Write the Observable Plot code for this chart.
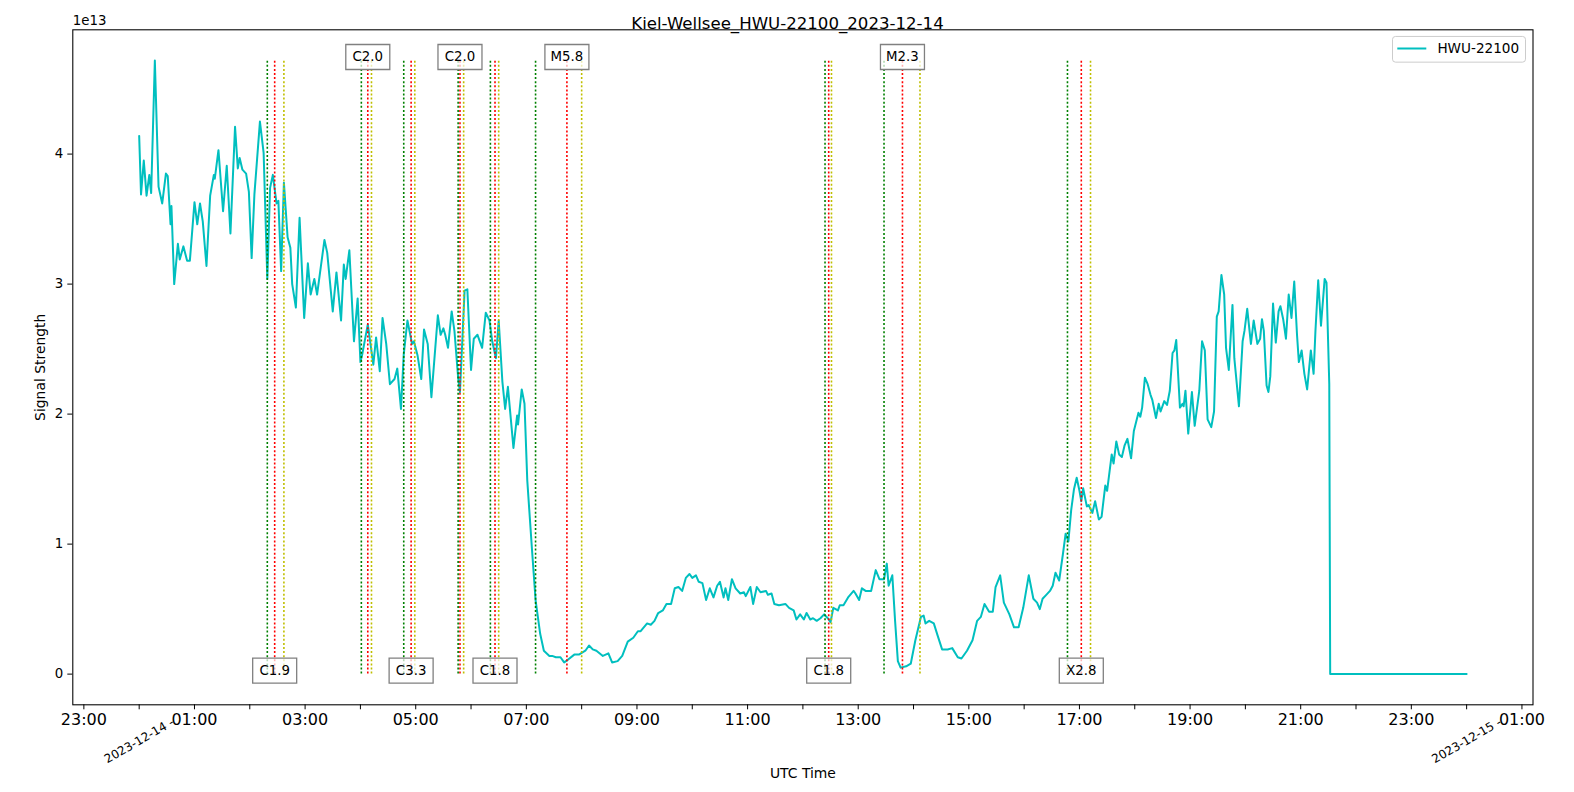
<!DOCTYPE html>
<html>
<head>
<meta charset="utf-8">
<script src="https://cdn.jsdelivr.net/npm/d3@7"></script>
<script src="https://cdn.jsdelivr.net/npm/@observablehq/plot@0.6"></script>
<style>
  html, body { margin: 0; padding: 0; background: #ffffff; overflow: hidden; }
</style>
</head>
<body>
<div id="chart"></div>
<script>
// ---------- texts ----------
const chartTitle = "Kiel-Wellsee_HWU-22100_2023-12-14";
const seriesName = "HWU-22100";
const xLabel = "UTC Time";
const yLabel = "Signal Strength";
const yExponentLabel = "1e13";
const dayStart = "2023-12-14";

// ---------- signal series (minutes after 00:00 UTC, value in units of 1e13) ----------
const minutes = [
  0,2,5,8,11,13,17,21,25,29,
  31,34,35,38,42,44,48,52,55,60,
  63,66,69,73,77,81,82,86,91,95,
  99,104,107,109,112,116,119,122,125,131,
  135,139,142,145,149,151,154,157,161,164,
  166,170,174,179,183,186,190,193,197,201,
  204,210,214,219,222,224,228,233,237,240,
  242,248,254,257,261,264,268,272,277,280,
  284,287,291,296,298,302,306,309,313,317,
  321,324,327,330,332,335,339,342,346,348,
  353,356,360,363,367,372,376,380,383,387,
  390,394,397,400,406,410,411,415,418,421,
  426,430,435,439,445,448,452,457,461,465,
  472,477,484,488,492,496,503,509,513,519,
  524,530,536,541,544,551,555,559,563,568,
  572,577,581,585,589,593,597,600,604,607,
  611,615,619,623,627,630,634,636,639,643,
  647,652,656,658,663,666,670,674,680,682,
  686,689,694,701,705,710,713,717,721,724,
  728,731,735,739,743,747,750,753,758,760,
  764,769,775,777,781,784,788,794,799,803,
  808,811,813,817,820,823,826,832,837,842,
  848,851,853,857,862,866,871,877,882,888,
  892,898,904,909,913,917,922,926,929,934,
  938,944,949,954,959,965,970,974,977,980,
  984,988,991,994,998,1002,1005,1008,1011,1014,
  1017,1020,1022,1024,1028,1030,1034,1037,1041,1044,
  1048,1050,1055,1057,1060,1063,1066,1069,1072,1076,
  1079,1084,1086,1088,1091,1094,1097,1099,1103,1106,
  1108,1112,1115,1118,1121,1123,1125,1129,1132,1133,
  1135,1138,1142,1145,1150,1153,1156,1159,1163,1166,
  1169,1171,1174,1177,1179,1182,1186,1188,1193,1197,
  1199,1202,1206,1209,1213,1216,1218,1220,1223,1225,
  1227,1230,1233,1236,1238,1241,1244,1247,1250,1253,
  1256,1258,1261,1264,1267,1271,1274,1276,1279,1282,
  1286,1288,1291,1292,1440
];
const signal = [
  4.14,3.69,3.95,3.68,3.84,3.70,4.72,3.75,3.62,3.85,
  3.83,3.46,3.60,3.00,3.31,3.19,3.29,3.18,3.18,3.63,
  3.46,3.62,3.48,3.14,3.68,3.84,3.81,4.03,3.56,3.91,
  3.39,4.21,3.89,3.97,3.88,3.85,3.71,3.20,3.69,4.25,
  4.01,3.04,3.74,3.84,3.62,3.64,3.10,3.78,3.36,3.28,
  3.00,2.82,3.51,2.74,3.16,2.92,3.04,2.92,3.13,3.34,
  3.24,2.79,3.09,2.72,3.15,3.04,3.26,2.56,2.89,2.40,
  2.46,2.69,2.38,2.59,2.33,2.74,2.54,2.23,2.27,2.35,
  2.04,2.46,2.72,2.54,2.56,2.45,2.27,2.65,2.54,2.13,
  2.49,2.76,2.61,2.66,2.61,2.51,2.79,2.64,2.28,2.17,
  2.95,2.96,2.34,2.58,2.61,2.51,2.78,2.72,2.56,2.43,
  2.72,2.25,2.04,2.21,1.74,1.99,1.92,2.19,2.08,1.49,
  0.97,0.57,0.31,0.18,0.14,0.14,0.13,0.13,0.09,0.11,
  0.15,0.15,0.18,0.22,0.19,0.18,0.14,0.16,0.09,0.10,
  0.14,0.25,0.28,0.33,0.33,0.39,0.38,0.41,0.47,0.49,
  0.54,0.54,0.66,0.67,0.64,0.74,0.77,0.74,0.76,0.71,
  0.70,0.57,0.66,0.59,0.68,0.71,0.59,0.66,0.57,0.73,
  0.66,0.62,0.63,0.60,0.67,0.54,0.67,0.63,0.64,0.61,
  0.62,0.54,0.53,0.54,0.51,0.49,0.42,0.46,0.42,0.47,
  0.42,0.43,0.41,0.43,0.46,0.43,0.40,0.51,0.49,0.53,
  0.53,0.59,0.64,0.62,0.57,0.66,0.64,0.64,0.80,0.73,
  0.73,0.85,0.68,0.76,0.41,0.10,0.05,0.06,0.08,0.26,
  0.44,0.45,0.39,0.41,0.39,0.30,0.19,0.19,0.20,0.13,
  0.12,0.18,0.26,0.41,0.44,0.54,0.48,0.48,0.67,0.76,
  0.55,0.46,0.36,0.36,0.51,0.76,0.58,0.55,0.50,0.58,
  0.61,0.64,0.68,0.78,0.72,0.92,1.08,1.02,1.26,1.42,
  1.51,1.41,1.33,1.43,1.29,1.30,1.24,1.33,1.19,1.21,
  1.45,1.41,1.69,1.62,1.79,1.69,1.67,1.76,1.81,1.66,
  1.87,2.01,1.98,2.05,2.28,2.23,2.15,2.11,1.97,2.08,
  2.02,2.10,2.07,2.18,2.47,2.49,2.57,2.05,2.08,2.06,
  2.18,1.85,2.17,1.91,2.18,2.56,2.49,1.96,1.90,2.02,
  2.75,2.79,3.07,2.92,2.51,2.34,2.84,2.43,2.06,2.56,
  2.64,2.81,2.54,2.72,2.54,2.58,2.73,2.64,2.22,2.17,
  2.29,2.85,2.55,2.79,2.83,2.73,2.58,2.92,2.74,3.02,
  2.61,2.40,2.49,2.31,2.19,2.49,2.31,2.64,3.03,2.68,
  3.04,3.01,2.23,0,0
];
const yUnit = 1e13;

// ---------- flares (UTC) ----------
const flareClass = ["C1.9", "C2.0", "C3.3", "C2.0", "C1.8", "M5.8", "C1.8", "M2.3", "X2.8"];
const flareStart = ["02:19", "04:01", "04:47", "05:46", "06:21", "07:10", "12:24", "13:28", "16:47"];
const flarePeak  = ["02:27", "04:08", "04:55", "05:48", "06:26", "07:44", "12:28", "13:48", "17:02"];
const flareEnd   = ["02:37", "04:12", "04:59", "05:52", "06:30", "08:00", "12:31", "14:07", "17:12"];

// ---------- ticks ----------
const xMajorTicks = [
  "2023-12-13T23:00:00Z", "2023-12-14T01:00:00Z", "2023-12-14T03:00:00Z", "2023-12-14T05:00:00Z",
  "2023-12-14T07:00:00Z", "2023-12-14T09:00:00Z", "2023-12-14T11:00:00Z", "2023-12-14T13:00:00Z",
  "2023-12-14T15:00:00Z", "2023-12-14T17:00:00Z", "2023-12-14T19:00:00Z", "2023-12-14T21:00:00Z",
  "2023-12-14T23:00:00Z", "2023-12-15T01:00:00Z"
];
const xMinorTicks = [
  "2023-12-14T00:00:00Z", "2023-12-14T02:00:00Z", "2023-12-14T04:00:00Z", "2023-12-14T06:00:00Z",
  "2023-12-14T08:00:00Z", "2023-12-14T10:00:00Z", "2023-12-14T12:00:00Z", "2023-12-14T14:00:00Z",
  "2023-12-14T16:00:00Z", "2023-12-14T18:00:00Z", "2023-12-14T20:00:00Z", "2023-12-14T22:00:00Z",
  "2023-12-15T00:00:00Z"
];
const dateTickTimes = ["2023-12-14T00:00:00Z", "2023-12-15T00:00:00Z"];
const dateTickLabels = ["2023-12-14 -", "2023-12-15 -"];
const yTicks = [0, 1, 2, 3, 4];

// ---------- build tables ----------
const t0 = new Date(dayStart + "T00:00:00Z").getTime();
const series = minutes.map((m, i) => ({time: new Date(t0 + m * 60000), value: signal[i] * yUnit}));
const hm = (s) => new Date(`${dayStart}T${s}:00Z`);
const flares = flareClass.map((c, i) => ({
  cls: c, start: hm(flareStart[i]), peak: hm(flarePeak[i]), end: hm(flareEnd[i]), top: i % 2 === 1
}));
const dateTicks = dateTickTimes.map((t, i) => ({time: new Date(t), label: dateTickLabels[i]}));

const yMax = d3.max(series, d => d.value);
const [tMin, tMax] = d3.extent(series, d => d.time);
const span = tMax - tMin;
const xDomain = [new Date(+tMin - 0.05 * span), new Date(+tMax + 0.05 * span)];
const yDomain = [-0.05 * yMax, 1.05 * yMax];

// custom symbols
const rectSymbol = (w, h, r = 0) => ({
  draw(ctx) {
    const x0 = -w / 2, y0 = -h / 2, x1 = w / 2, y1 = h / 2;
    if (!r) { ctx.rect(x0, y0, w, h); return; }
    ctx.moveTo(x0 + r, y0);
    ctx.lineTo(x1 - r, y0); ctx.arcTo(x1, y0, x1, y0 + r, r);
    ctx.lineTo(x1, y1 - r); ctx.arcTo(x1, y1, x1 - r, y1, r);
    ctx.lineTo(x0 + r, y1); ctx.arcTo(x0, y1, x0, y1 - r, r);
    ctx.lineTo(x0, y0 + r); ctx.arcTo(x0, y0, x0 + r, y0, r);
    ctx.closePath();
  }
});
const hLineSymbol = (w) => ({ draw(ctx) { ctx.moveTo(-w / 2, 0); ctx.lineTo(w / 2, 0); } });

const cyan = "#00bfbf";
const labelY = d => d.top ? yMax : 0;
const flareRule = (key, color) => Plot.ruleX(flares, {
  x: key, y1: 0, y2: yMax, stroke: color, strokeWidth: 1.6, strokeDasharray: "2,2.1"
});
const txt = {lineAnchor: "middle", fill: "black"};

const chart = Plot.plot({
  width: 1574,
  height: 792,
  marginLeft: 72.3,
  marginRight: 41.5,
  marginTop: 29.3,
  marginBottom: 87.7,
  style: {fontFamily: "'DejaVu Sans', sans-serif", fontSize: "13.33px", color: "black", background: "white", overflow: "visible"},
  x: {type: "utc", domain: xDomain},
  y: {domain: yDomain},
  marks: [
    Plot.line(series, {x: "time", y: "value", stroke: cyan, strokeWidth: 2}),
    flareRule("start", "#008000"),
    flareRule("peak", "#ff0000"),
    flareRule("end", "#bfbf00"),
    Plot.dot(flares, {x: "peak", y: labelY, symbol: rectSymbol(44, 25), fill: "white", fillOpacity: 0.7,
      stroke: "#808080", strokeWidth: 1.3, dy: -3.5}),
    Plot.text(flares, {...txt, x: "peak", y: labelY, text: "cls", dy: -3.5, fontSize: 13.33}),
    Plot.frame({stroke: "black", strokeWidth: 1.07}),
    Plot.axisX(xMajorTicks.map(t => new Date(t)), {tickSize: 5, tickPadding: 4.3,
      tickFormat: d3.utcFormat("%H:%M"), fontSize: 16, label: null}),
    Plot.axisX(xMinorTicks.map(t => new Date(t)), {tickSize: 5, tickFormat: () => "", label: null}),
    Plot.text(dateTicks, {...txt, x: "time", frameAnchor: "bottom", textAnchor: "middle", text: "label",
      rotate: -30, dy: 36, fontSize: 12}),
    Plot.axisY(yTicks.map(v => v * yUnit), {tickSize: 5, tickPadding: 4.5, tickFormat: d => String(d / yUnit),
      fontSize: 13.33, label: null}),
    Plot.text([chartTitle], {...txt, frameAnchor: "top", textAnchor: "middle", text: d => d, dx: -15.4, dy: -6.1, fontSize: 16.6}),
    Plot.text([yExponentLabel], {...txt, frameAnchor: "top-left", text: d => d, textAnchor: "start", dy: -8.6, fontSize: 13.33}),
    Plot.text([xLabel], {...txt, frameAnchor: "bottom", textAnchor: "middle", text: d => d, dy: 69.1, fontSize: 13.9}),
    Plot.text([yLabel], {...txt, frameAnchor: "left", textAnchor: "middle", text: d => d, rotate: -90, dx: -32.5, fontSize: 13.9}),
    // legend
    Plot.dot([seriesName], {frameAnchor: "top-right", dx: -74, dy: 19.5, symbol: rectSymbol(133, 25.7, 3),
      fill: "white", fillOpacity: 0.8, stroke: "#cccccc", strokeWidth: 1}),
    Plot.dot([seriesName], {frameAnchor: "top-right", dx: -121.2, dy: 18.7, symbol: hLineSymbol(29),
      fill: "none", stroke: cyan, strokeWidth: 2}),
    Plot.text([seriesName], {...txt, frameAnchor: "top-right", text: d => d, textAnchor: "start", dx: -95.6, dy: 18.7,
      fontSize: 13.6})
  ]
});
document.getElementById("chart").appendChild(chart);
</script>
</body>
</html>
